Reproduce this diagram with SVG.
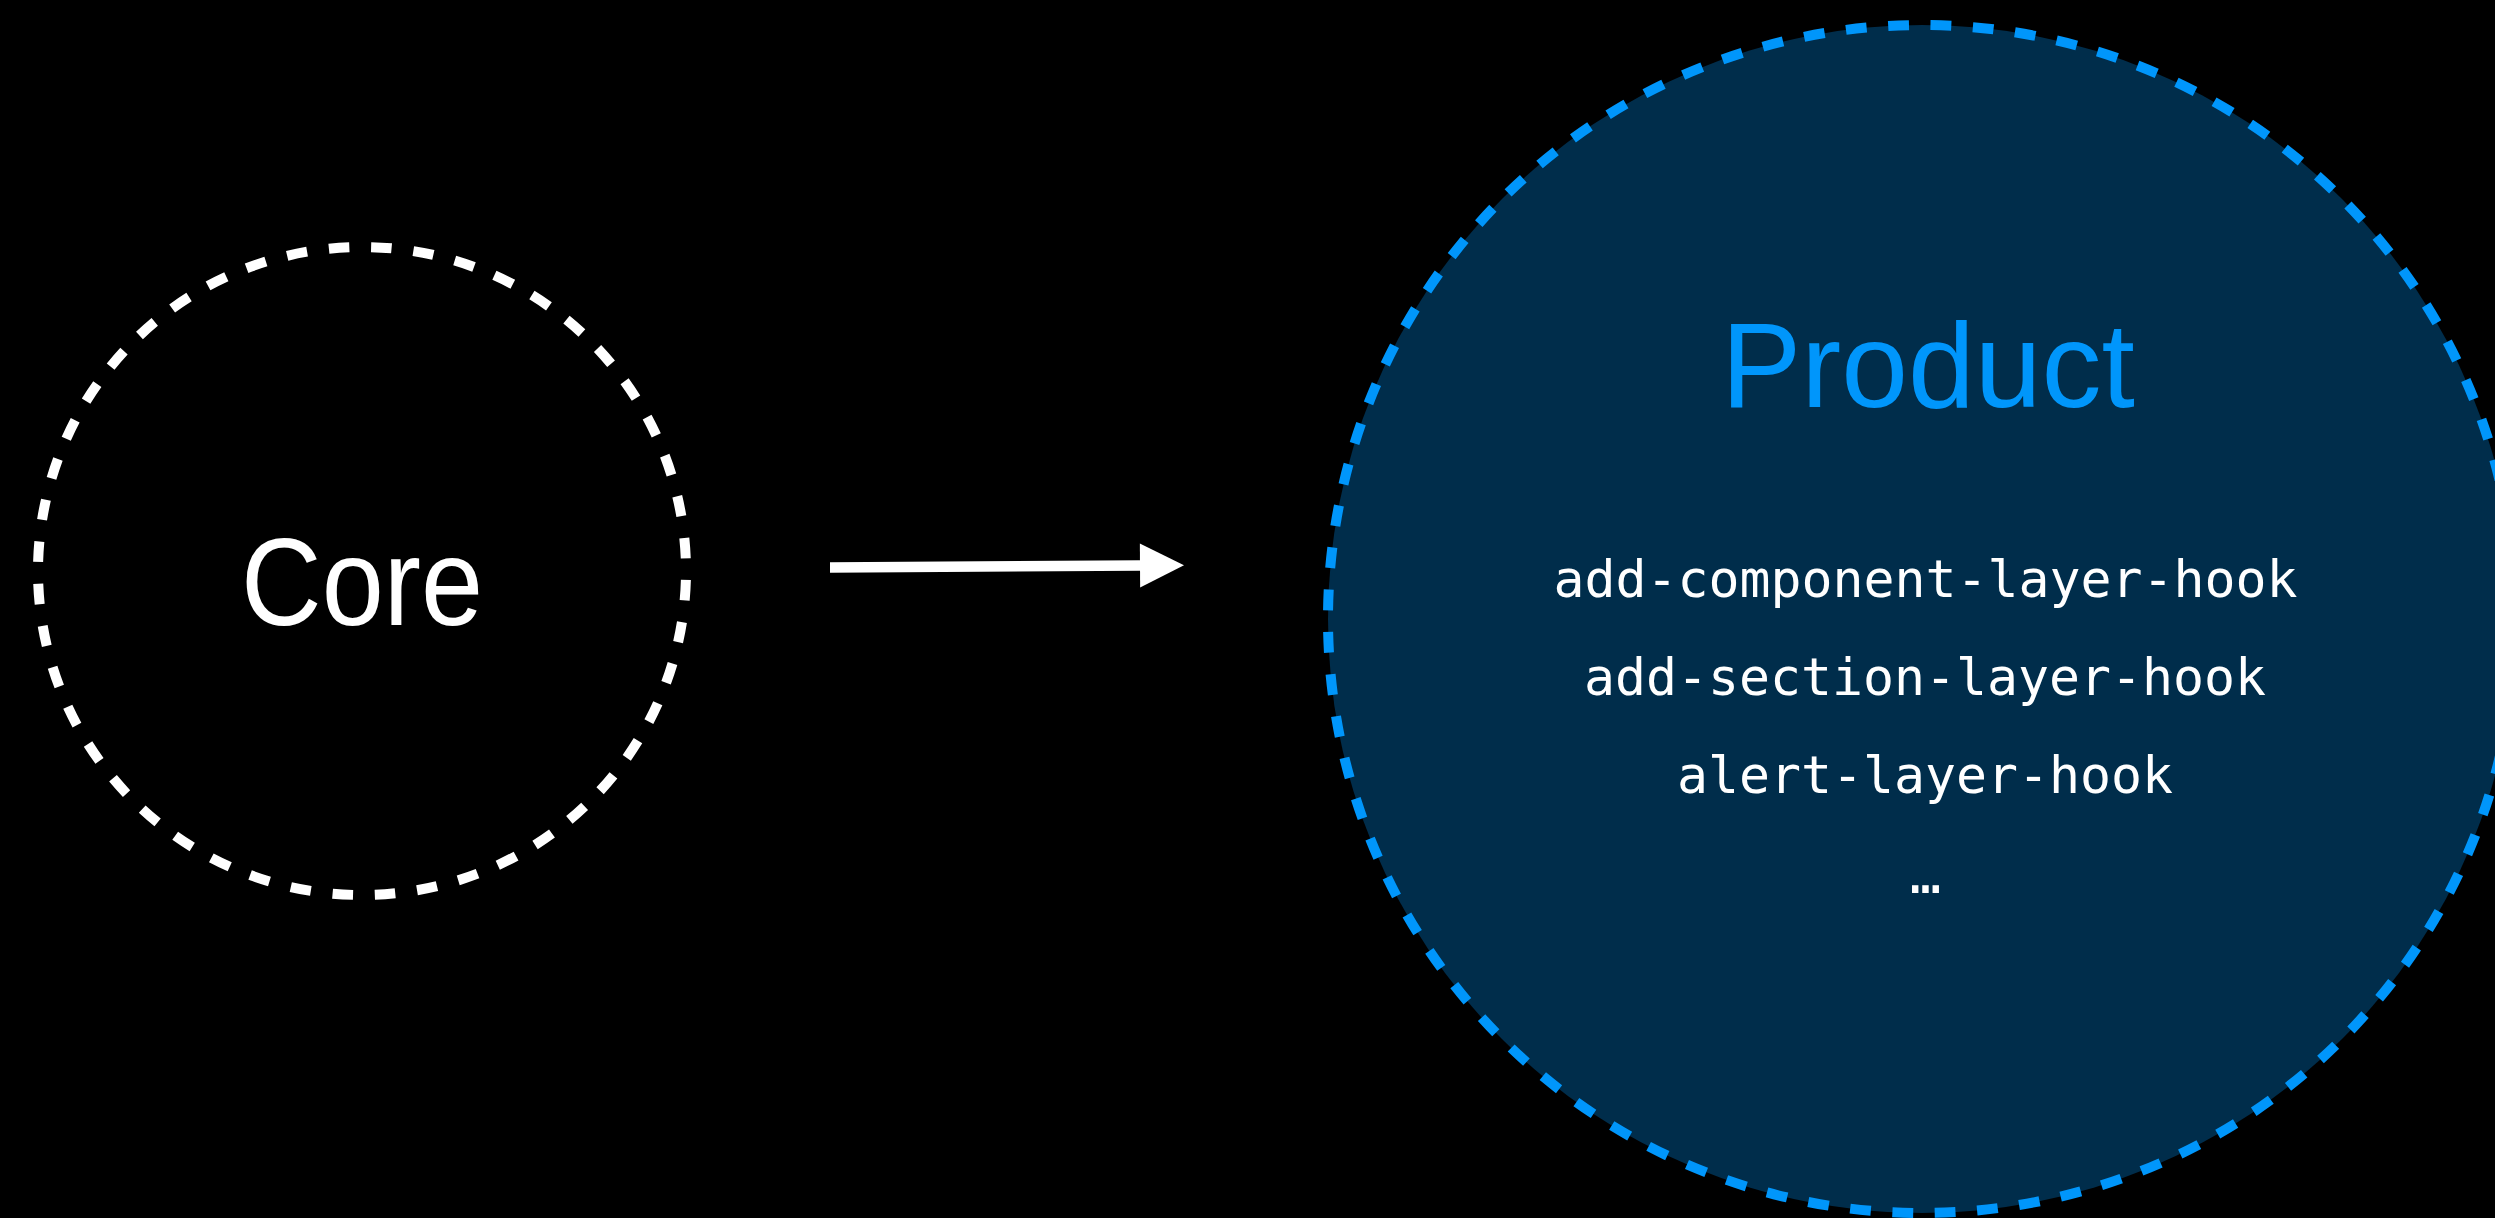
<svg xmlns="http://www.w3.org/2000/svg" width="2495" height="1218" viewBox="0 0 2495 1218">
  <style>
    .core-ring { fill: none; stroke: #ffffff; stroke-width: 10; stroke-dasharray: 20.4 22; stroke-dashoffset: -9; }
    .product-ring { fill: #002d4b; stroke: #0096fb; stroke-width: 10; stroke-dasharray: 20.8 21.6; stroke-dashoffset: -9; }
    .title { font-family: "Liberation Sans", Arial, sans-serif; text-anchor: middle; }
    .hook { font-family: "DejaVu Sans Mono", "Liberation Mono", monospace; font-size: 51.5px; fill: #ffffff; text-anchor: middle; }
    .link { stroke: #ffffff; stroke-width: 10.5; fill: none; }
  </style>
  <defs>
    <marker id="arrowhead" markerUnits="userSpaceOnUse" markerWidth="44" markerHeight="44" refX="0" refY="22" orient="auto" overflow="visible">
      <path d="M0,0 L44,22 L0,44 Z" fill="#ffffff"/>
    </marker>
  </defs>

  <rect x="0" y="0" width="2495" height="1218" fill="#000000"/>

  <!-- Core node -->
  <g id="core">
    <circle class="core-ring" cx="362" cy="571" r="324"/>
    <text class="title" x="362" y="625" font-size="124" fill="#ffffff" textLength="242" lengthAdjust="spacingAndGlyphs">Core</text>
  </g>

  <!-- Product node with its hooks -->
  <g id="product">
    <circle class="product-ring" cx="1922" cy="619" r="594"/>
    <text class="title" x="1928" y="407" font-size="120" fill="#0096fb">Product</text>
    <text class="hook" x="1925.5" y="597">add-component-layer-hook</text>
    <text class="hook" x="1925" y="695">add-section-layer-hook</text>
    <text class="hook" x="1925" y="793">alert-layer-hook</text>
    <text class="hook" x="1925.5" y="893">…</text>
  </g>

  <!-- Connectors -->
  <g id="connectors">
    <line class="link" x1="830" y1="567.5" x2="1140" y2="565.5" marker-end="url(#arrowhead)"/>
  </g>
</svg>
